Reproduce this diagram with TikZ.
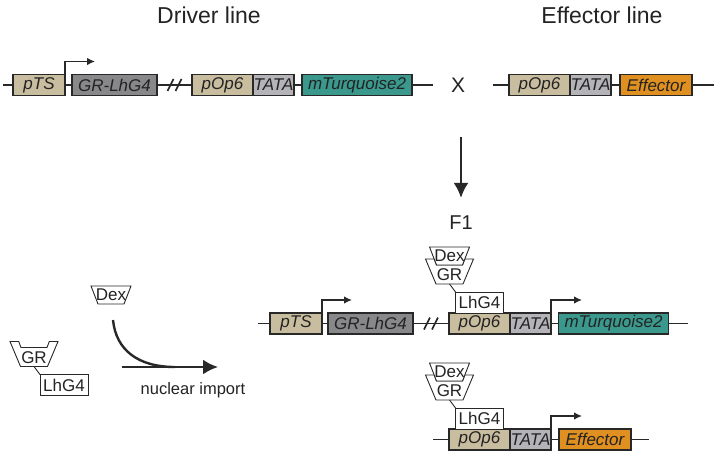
\documentclass[tikz,border=0pt]{standalone}
\usepackage{fontspec}
\setmainfont{Liberation Sans}
\usetikzlibrary{arrows.meta}
\usetikzlibrary{positioning}
\usetikzlibrary{calc}

\definecolor{promtan}{RGB}{201,189,160}
\definecolor{lhggray}{RGB}{136,136,138}
\definecolor{tatagray}{RGB}{180,180,184}
\definecolor{turq}{RGB}{58,152,140}
\definecolor{efforange}{RGB}{224,144,32}
\definecolor{edgecol}{RGB}{40,40,40}
\definecolor{txtcol}{RGB}{35,35,35}

\tikzset{
  gene/.style={draw=edgecol, line width=1.6pt, inner sep=0pt, outer sep=0pt,
    minimum height=21pt, text=txtcol, font=\fontsize{17}{17}\selectfont\itshape},
  dna/.style={draw=edgecol, line width=1.6pt},
  prom/.style={draw=edgecol, line width=1.3pt, -{Latex[length=8pt,width=7.5pt]}},
  bigarrow/.style={draw=edgecol, line width=2.4pt, -{Latex[length=15pt,width=15pt]}},
  protein/.style={draw=edgecol, fill=white, line width=0.9pt},
  lbox/.style={protein, inner sep=0pt, outer sep=0pt, minimum width=48pt,
    minimum height=21pt, text=txtcol, font=\fontsize{17}{17}\selectfont},
  plabel/.style={inner sep=0pt, text=txtcol, font=\fontsize{17}{17}\selectfont},
  headtext/.style={inner sep=0pt, text=txtcol, font=\fontsize{23}{23}\selectfont}
}

% Dex ligand, #2 = top centre
\newcommand{\dexcap}[2]{%
  \draw[protein] ($(#2)+(-20,0)$) -- ($(#2)+(20,0)$) -- ($(#2)+(13,18)$) -- ($(#2)+(-13,18)$) -- cycle;
  \node[plabel] (#1) at ($(#2)+(0,9)$) {Dex};
}
% GR cup, #2 = bottom centre
\newcommand{\grcup}[2]{%
  \draw[protein] ($(#2)+(-13.5,0)$) -- ($(#2)+(-24,-25)$) -- ($(#2)+(-15.3,-25)$)
    -- ($(#2)+(-13,-19)$) -- ($(#2)+(13,-19)$) -- ($(#2)+(15.3,-25)$)
    -- ($(#2)+(24,-25)$) -- ($(#2)+(13.5,0)$) -- cycle;
  \node[plabel] (#1) at ($(#2)+(0,-9)$) {GR};
}
% GR-LhG4 protein, #2 = placement of the LhG4 box
\newcommand{\lhgfour}[2]{%
  \node[lbox, #2] (#1l) {LhG4};
  \coordinate (#1b) at ($(#1l.north west)+(-6,-8)$);
  \grcup{#1g}{#1b}
  \draw[protein] (#1b) -- (#1l.north west);
}
% break in the DNA
\newcommand{\dnabreak}[1]{%
  \foreach \d in {-4,4} {\draw[dna] ($(#1)+(\d-3,6)$) -- ($(#1)+(\d+3,-6)$);}
}

\begin{document}
\begin{tikzpicture}[x=1pt, y=-1pt]
\useasboundingbox (0,0) rectangle (714,452);

\node[headtext] (drv) at (209,15) {Driver line};
\node[headtext] (eff) at (602,15) {Effector line};

% driver line
\node[gene, fill=promtan, minimum width=52pt] (pts1) at (39,85) {pTS};
\node[gene, fill=lhggray, minimum width=85pt] (grl1) at (114.5,85) {GR-LhG4};
\node[gene, fill=promtan, minimum width=61pt] (pop1) at (222.5,85) {pOp6};
\node[gene, fill=tatagray, minimum width=41pt, right=0pt of pop1] (tata1) {TATA};
\node[gene, fill=turq, minimum width=110pt] (mtq1) at (357,85) {mTurquoise2};
\coordinate (s1) at (3,85);
\coordinate (e1) at (433,85);
\coordinate (br1) at ($(grl1.east)!0.5!(pop1.west)$);
\draw[dna] (s1) -- (pts1) -- (grl1) -- (pop1) (tata1) -- (mtq1) -- (e1);
\dnabreak{br1}
\draw[prom] (pts1.north east) -- ++(0,-13) -- ++(30,0);

\node[inner sep=0pt, text=txtcol, font=\fontsize{21}{21}\selectfont] (cross) at (458,85) {X};

% effector line
\node[gene, fill=promtan, minimum width=61pt] (pop2) at (539.5,85) {pOp6};
\node[gene, fill=tatagray, minimum width=41pt, right=0pt of pop2] (tata2) {TATA};
\node[gene, fill=efforange, minimum width=72pt] (eff2) at (656,85) {Effector};
\coordinate (s2) at (493,85);
\coordinate (e2) at (714,85);
\draw[dna] (s2) -- (pop2) (tata2) -- (eff2) -- (e2);

% cross
\node[inner sep=0pt, text=txtcol, font=\fontsize{20}{20}\selectfont] (f1) at (461,223) {F1};
\coordinate (dn) at (461,137);
\draw[bigarrow, shorten >=18pt] (dn) -- (f1);

% F1 driver
\node[gene, fill=promtan, minimum width=52pt] (pts3) at (296,323.5) {pTS};
\node[gene, fill=lhggray, minimum width=85pt] (grl3) at (370.5,323.5) {GR-LhG4};
\node[gene, fill=promtan, minimum width=61pt] (pop3) at (479.5,323.5) {pOp6};
\node[gene, fill=tatagray, minimum width=41pt, right=0pt of pop3] (tata3) {TATA};
\node[gene, fill=turq, minimum width=110pt] (mtq3) at (613.5,323.5) {mTurquoise2};
\coordinate (s3) at (258,323.5);
\coordinate (e3) at (688,323.5);
\coordinate (br3) at ($(grl3.east)!0.5!(pop3.west)$);
\draw[dna] (s3) -- (pts3) -- (grl3) -- (pop3) (tata3) -- (mtq3) -- (e3);
\dnabreak{br3}
\draw[prom] (pts3.north east) -- ++(0,-13) -- ++(30,0);
\draw[prom] (tata3.north east) -- ++(0,-13) -- ++(31,0);
\lhgfour{fa}{above=0pt of pop3}
\coordinate (fadt) at ($(fab)+(0,-37)$);
\dexcap{fad}{fadt}

% F1 effector
\node[gene, fill=promtan, minimum width=61pt] (pop4) at (479.5,439.5) {pOp6};
\node[gene, fill=tatagray, minimum width=41pt, right=0pt of pop4] (tata4) {TATA};
\node[gene, fill=efforange, minimum width=72pt] (eff4) at (595,439.5) {Effector};
\coordinate (s4) at (433,439.5);
\coordinate (e4) at (649,439.5);
\draw[dna] (s4) -- (pop4) (tata4) -- (eff4) -- (e4);
\draw[prom] (tata4.north east) -- ++(0,-13) -- ++(31,0);
\lhgfour{fb}{above=0pt of pop4}
\coordinate (fbdt) at ($(fbb)+(0,-37)$);
\dexcap{fbd}{fbdt}

% nuclear import
\coordinate (dexlt) at (111,286);
\dexcap{dexl}{dexlt}
\lhgfour{fl}{at={(64,385)}}
\coordinate (imps) at (122,367);
\coordinate (impe) at (218,367);
\coordinate (impc) at (113,320);
\coordinate (impm) at (175,367);
\draw[bigarrow] (imps) -- (impe);
\draw[draw=edgecol, line width=2.4pt] (impc) .. controls (116,350) and (138,367) .. (impm);
\node[inner sep=0pt, text=txtcol, font=\fontsize{16.5}{16.5}\selectfont] (imp) at (193,390) {nuclear import};
\end{tikzpicture}
\end{document}
